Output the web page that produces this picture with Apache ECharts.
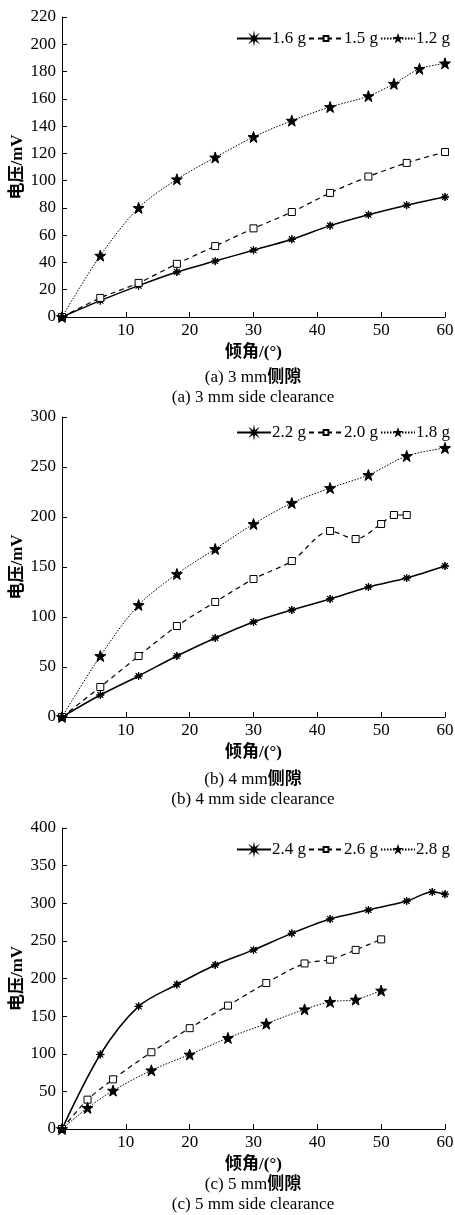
<!DOCTYPE html>
<html>
<head>
<meta charset="utf-8">
<script src="https://cdn.jsdelivr.net/npm/echarts@6/dist/echarts.min.js"></script>
<style>
  html, body { margin: 0; padding: 0; background: #fff; }
  #chart { width: 455px; height: 1215px; }
</style>
</head>
<body>
<div id="chart"></div>
<script>
// panel (a) 3 mm
const anglesA = [0, 6, 12, 18, 24, 30, 36, 42, 48, 54, 60];
const a16 = [0, 12, 23, 33, 41, 49, 57, 67, 75, 82, 88];
const a15 = [0, 14, 25, 39, 52, 65, 77, 91, 103, 113, 121];
const anglesA12 = [0, 6, 12, 18, 24, 30, 36, 42, 48, 52, 56, 60];
const a12 = [0, 45, 80, 101, 117, 132, 144, 154, 162, 171, 182, 186];

// panel (b) 4 mm
const anglesB = [0, 6, 12, 18, 24, 30, 36, 42, 48, 54, 60];
const b22 = [0, 22, 41, 61, 79, 95, 107, 118, 130, 139, 151];
const anglesB20 = [0, 6, 12, 18, 24, 30, 36, 42, 46, 50, 52, 54];
const b20 = [0, 30, 61, 91, 115, 138, 156, 186, 178, 193, 202, 202];
const b18 = [0, 61, 112, 143, 168, 193, 214, 229, 242, 261, 269];

// panel (c) 5 mm
const anglesC24 = [0, 6, 12, 18, 24, 30, 36, 42, 48, 54, 58, 60];
const c24 = [0, 99, 163, 192, 218, 238, 260, 279, 291, 303, 315, 312];
const anglesC = [0, 4, 8, 14, 20, 26, 32, 38, 42, 46, 50];
const c26 = [0, 39, 66, 102, 134, 164, 194, 220, 225, 238, 252];
const c28 = [0, 28, 51, 78, 99, 121, 140, 159, 169, 172, 184];

const yMax = [220, 300, 400];
const yStep = [20, 50, 50];
const captionsCn = ['(a) 3 mm', '(b) 4 mm', '(c) 5 mm'];
const captionsEn = ['(a) 3 mm side clearance', '(b) 4 mm side clearance', '(c) 5 mm side clearance'];

const FONT = "'Liberation Serif', 'Noto Sans CJK SC', serif";

function burst(n, r1, r2) {
    let pts = [];
    for (let i = 0; i < n * 2; i++) {
        const r = i % 2 === 0 ? r1 : r2;
        const a = Math.PI * i / n - Math.PI / 2;
        pts.push((50 + r * Math.cos(a)).toFixed(1) + ',' + (50 + r * Math.sin(a)).toFixed(1));
    }
    return 'path://M' + pts.join(' L') + ' Z';
}
const STAR = burst(5, 50, 20);
const ASTER = burst(8, 50, 16);

function pairs(xs, ys) { return xs.map((x, i) => [x, ys[i]]); }

function makeSeries(name, xs, ys, idx, kind) {
    const s = {
        name: name, type: 'line', xAxisIndex: idx, yAxisIndex: idx,
        data: pairs(xs, ys), smooth: 0.3,
        itemStyle: { color: '#000', borderColor: '#000', borderWidth: 1 },
        z: 3
    };
    if (kind === 'solid') {
        s.symbol = ASTER; s.symbolSize = 8;
        s.lineStyle = { color: '#000', width: 1.5, type: 'solid' };
    } else if (kind === 'dash') {
        s.symbol = 'rect'; s.symbolSize = 7;
        s.itemStyle = { color: '#fff', borderColor: '#000', borderWidth: 1 };
        s.lineStyle = { color: '#000', width: 1.2, type: [5, 4] };
    } else {
        s.symbol = STAR; s.symbolSize = 11;
        s.lineStyle = { color: '#000', width: 1, type: [1.5, 1.5] };
    }
    return s;
}

const tops = [17, 417, 828];
const heights = [300, 300, 301];
const legendTops = [25, 419, 836];
const captionY = [378, 780, 1185];
const legendNames = [['1.6 g', '1.5 g', '1.2 g'], ['2.2 g', '2.0 g', '1.8 g'], ['2.4 g', '2.6 g', '2.8 g']];

const chart = echarts.init(document.getElementById('chart'));

const grids = [], xAxes = [], yAxes = [], legends = [], graphics = [];
for (let i = 0; i < 3; i++) {
    grids.push({ left: 62, right: 10, top: tops[i], height: heights[i], containLabel: false, outerBoundsMode: 'none' });
    xAxes.push({
        type: 'value', gridIndex: i, min: 0, max: 60, interval: 10,
        name: '倾角/(°)', nameLocation: 'middle', nameGap: 27, nameMoveOverlap: false,
        nameTextStyle: { fontFamily: FONT, fontSize: 17, fontWeight: 'bold', color: '#000' },
        axisLine: { onZero: false, lineStyle: { color: '#000', width: 1 } },
        axisTick: { inside: true, length: 5, lineStyle: { color: '#000' } },
        axisLabel: { showMinLabel: false, fontFamily: FONT, fontSize: 17, color: '#000', margin: 5 },
        splitLine: { show: false }
    });
    yAxes.push({
        type: 'value', gridIndex: i, min: 0, max: yMax[i], interval: yStep[i],
        name: '电压/mV', nameLocation: 'middle', nameGap: 36, nameMoveOverlap: false,
        nameTextStyle: { fontFamily: FONT, fontSize: 17, fontWeight: 'bold', color: '#000' },
        axisLine: { show: true, lineStyle: { color: '#000', width: 1 } },
        axisTick: { show: true, inside: true, length: 5, lineStyle: { color: '#000' } },
        axisLabel: { fontFamily: FONT, fontSize: 17, color: '#000', margin: 6 },
        splitLine: { show: false }
    });
    legends.push({
        data: legendNames[i], right: 0, top: legendTops[i],
        itemWidth: 34, itemHeight: 6, itemGap: 2,
        textStyle: { fontFamily: FONT, fontSize: 17, color: '#000', padding: [0, 0, 0, -4] }
    });
    const cx = 253;
    graphics.push({
        type: 'text', x: cx, y: captionY[i],
        style: {
            text: captionsCn[i] + '{b|侧隙}', fill: '#000', font: '17px ' + FONT,
            align: 'center', verticalAlign: 'middle',
            rich: { b: { fontFamily: FONT, fontSize: 17, fontWeight: 'bold', fill: '#000' } }
        }
    });
    graphics.push({
        type: 'text', x: cx, y: captionY[i] + 20,
        style: { text: captionsEn[i], fill: '#000', font: '17px ' + FONT, align: 'center', verticalAlign: 'middle' }
    });
}

const series = [
    makeSeries('1.6 g', anglesA, a16, 0, 'solid'),
    makeSeries('1.5 g', anglesA, a15, 0, 'dash'),
    makeSeries('1.2 g', anglesA12, a12, 0, 'dot'),
    makeSeries('2.2 g', anglesB, b22, 1, 'solid'),
    makeSeries('2.0 g', anglesB20, b20, 1, 'dash'),
    makeSeries('1.8 g', anglesB, b18, 1, 'dot'),
    makeSeries('2.4 g', anglesC24, c24, 2, 'solid'),
    makeSeries('2.6 g', anglesC, c26, 2, 'dash'),
    makeSeries('2.8 g', anglesC, c28, 2, 'dot')
];

chart.setOption({
    animation: false,
    backgroundColor: '#fff',
    grid: grids,
    xAxis: xAxes,
    yAxis: yAxes,
    legend: legends,
    series: series,
    graphic: graphics
});
window.addEventListener('resize', () => chart.resize());
</script>
</body>
</html>
